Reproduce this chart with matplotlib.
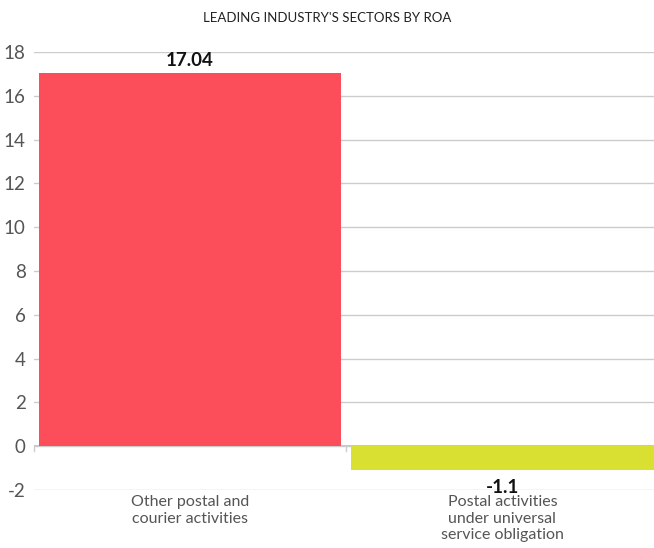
import matplotlib
matplotlib.use('Agg')
import matplotlib.pyplot as plt
import numpy as np

plt.rcParams['font.family'] = ['Lato', 'DejaVu Sans']
plt.rcParams['axes.unicode_minus'] = False

# data
categories = ['Other postal and\ncourier activities',
              'Postal activities\nunder universal\nservice obligation']
values = [17.04, -1.1]
value_labels = ['17.04', '-1.1']
colors = ['#fc4d5a', '#d9e032']
title = "LEADING INDUSTRY'S SECTORS BY ROA"

fig = plt.figure(figsize=(6.54, 5.48), dpi=100)
ax = fig.add_axes([0.052, 0.106, 0.955, 0.799])

x = np.arange(len(categories))
ax.bar(x, values, width=0.968, color=colors, zorder=2)

ax.set_xlim(-0.5, 1.5)
ax.set_ylim(-2, 18)
ax.set_yticks(np.arange(-2, 19, 2))
ax.grid(axis='y', color='#cccccc', linewidth=1, zorder=0)
ax.axhline(0, color='#bbbbbb', linewidth=1.2, zorder=1)

for s in ax.spines.values():
    s.set_visible(False)

ax.tick_params(axis='y', length=0, labelsize=13.5, labelcolor='#555555', pad=6)
ax.set_xticks(x)
ax.set_xticklabels(categories, fontsize=11.5, color='#555555', linespacing=1.2)
ax.tick_params(axis='x', length=0, pad=4)
for b in [-0.5, 0.5]:
    ax.plot([b, b], [-0.05, -0.2], color='#cccccc', lw=1, clip_on=False)

ax.text(x[0], values[0] + 0.2, value_labels[0], ha='center', va='bottom',
        fontsize=13.5, fontweight='bold', color='#111111')
ax.text(x[1], values[1] - 0.4, value_labels[1], ha='center', va='top',
        fontsize=13.5, fontweight='bold', color='#111111')

fig.text(0.5, 0.967, title, ha='center', va='center', fontsize=9.5, color='#222222')

fig.savefig('out.png', dpi=100)
